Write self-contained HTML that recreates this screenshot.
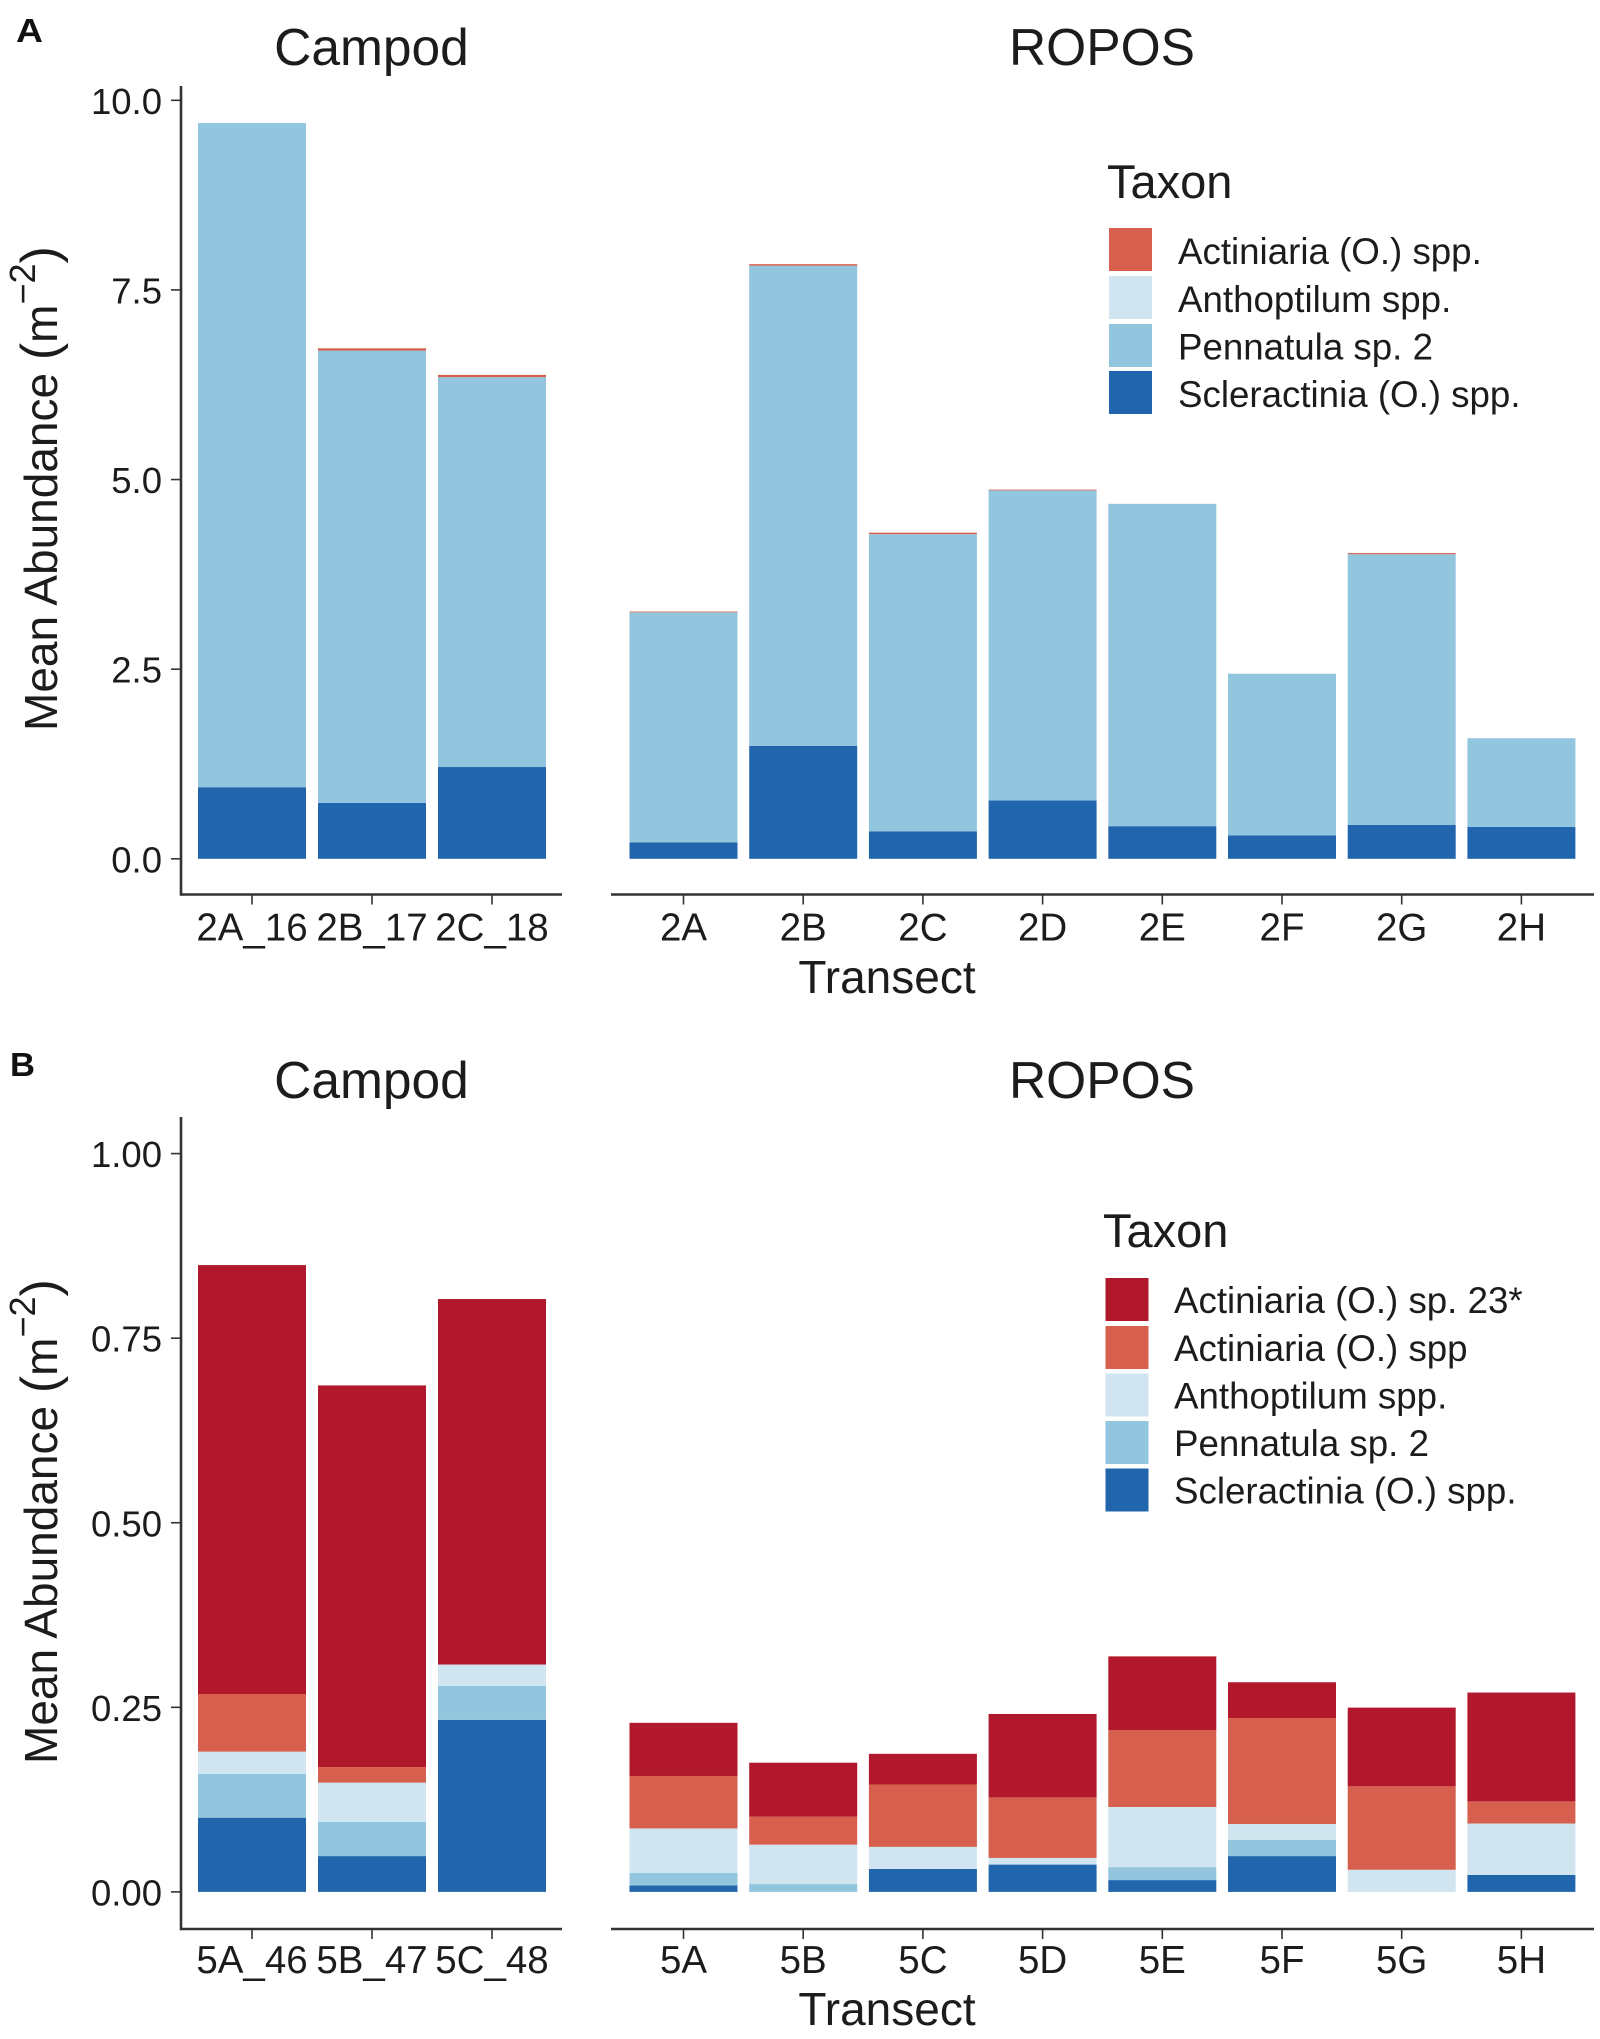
<!DOCTYPE html>
<html lang="en">
<head>
<meta charset="utf-8">
<title>Mean abundance by transect</title>
<style>
html,body{margin:0;padding:0;background:#fff;width:1600px;height:2039px;overflow:hidden}
svg{display:block}
text{font-family:"Liberation Sans",Arial,sans-serif;fill:#1c1c1c}
.tick{font-size:36.5px}
.tick-x{font-size:38.5px}
.legend{font-size:36.7px}
.facet{font-size:51.5px}
.legend-title{font-size:47px}
.axis-title{font-size:46px}
.letter{font-size:33px;font-weight:bold;fill:#111}
</style>
</head>
<body>
<svg id="figure" xmlns="http://www.w3.org/2000/svg" width="1600" height="2039" viewBox="0 0 1600 2039">
  <rect x="0" y="0" width="1600" height="2039" fill="#ffffff"/>

  <text class="letter" x="16" y="42" textLength="27" lengthAdjust="spacingAndGlyphs">A</text>
  <text class="facet" x="371.5" y="65" text-anchor="middle">Campod</text>
  <text class="facet" x="1102" y="65" text-anchor="middle">ROPOS</text>
  <text class="axis-title" transform="translate(57,731) rotate(-90)">Mean Abundance <tspan font-size="52">(</tspan>m<tspan dy="-22" font-size="36">−2</tspan><tspan dy="22" font-size="52">)</tspan></text>
  <text class="axis-title" x="887" y="993" text-anchor="middle">Transect</text>

  <g>
    <text class="legend-title" x="1107" y="198">Taxon</text>
    <g>
      <rect x="1109" y="228" width="43" height="43" fill="#D6604D"/>
      <text class="legend" x="1178" y="264">Actiniaria (O.) spp.</text>
    </g>
    <g>
      <rect x="1109" y="276" width="43" height="43" fill="#D1E5F0"/>
      <text class="legend" x="1178" y="312">Anthoptilum spp.</text>
    </g>
    <g>
      <rect x="1109" y="324" width="43" height="43" fill="#92C5DE"/>
      <text class="legend" x="1178" y="359.5">Pennatula sp. 2</text>
    </g>
    <g>
      <rect x="1109" y="371" width="43" height="43" fill="#2166AC"/>
      <text class="legend" x="1178" y="407">Scleractinia (O.) spp.</text>
    </g>
  </g>

  <text class="letter" x="10" y="1076" textLength="25" lengthAdjust="spacingAndGlyphs">B</text>
  <text class="facet" x="371.5" y="1098" text-anchor="middle">Campod</text>
  <text class="facet" x="1102" y="1098" text-anchor="middle">ROPOS</text>
  <text class="axis-title" transform="translate(57,1764) rotate(-90)">Mean Abundance <tspan font-size="52">(</tspan>m<tspan dy="-22" font-size="36">−2</tspan><tspan dy="22" font-size="52">)</tspan></text>
  <text class="axis-title" x="887" y="2025" text-anchor="middle">Transect</text>

  <g>
    <text class="legend-title" x="1103" y="1247">Taxon</text>
    <g>
      <rect x="1105.5" y="1278" width="43" height="43" fill="#B2182B"/>
      <text class="legend" x="1174" y="1313">Actiniaria (O.) sp. 23*</text>
    </g>
    <g>
      <rect x="1105.5" y="1326" width="43" height="43" fill="#D6604D"/>
      <text class="legend" x="1174" y="1361">Actiniaria (O.) spp</text>
    </g>
    <g>
      <rect x="1105.5" y="1373.5" width="43" height="43" fill="#D1E5F0"/>
      <text class="legend" x="1174" y="1408.5">Anthoptilum spp.</text>
    </g>
    <g>
      <rect x="1105.5" y="1421" width="43" height="43" fill="#92C5DE"/>
      <text class="legend" x="1174" y="1456">Pennatula sp. 2</text>
    </g>
    <g>
      <rect x="1105.5" y="1468.5" width="43" height="43" fill="#2166AC"/>
      <text class="legend" x="1174" y="1503.5">Scleractinia (O.) spp.</text>
    </g>
  </g>
</svg>

<script>
// ---- Panel A data ----
const aCampodCategories = ["2A_16", "2B_17", "2C_18"];
const aCampodScleractinia = [0.944, 0.738, 1.21];
const aCampodPennatula = [8.756, 5.962, 5.14];
const aCampodAnthoptilum = [0, 0, 0];
const aCampodActiniaria = [0, 0.03, 0.03];

const aRoposCategories = ["2A", "2B", "2C", "2D", "2E", "2F", "2G", "2H"];
const aRoposScleractinia = [0.215, 1.49, 0.36, 0.77, 0.43, 0.31, 0.446, 0.42];
const aRoposPennatula = [3.035, 6.33, 3.92, 4.087, 4.25, 2.13, 3.569, 1.17];
const aRoposAnthoptilum = [0, 0, 0, 0, 0, 0, 0, 0];
const aRoposActiniaria = [0.01, 0.02, 0.02, 0.01, 0, 0, 0.015, 0];

const aTickValues = [0, 2.5, 5, 7.5, 10];
const aTickLabels = ["0.0", "2.5", "5.0", "7.5", "10.0"];

// ---- Panel B data ----
const bCampodCategories = ["5A_46", "5B_47", "5C_48"];
const bCampodScleractinia = [0.1005, 0.0485, 0.233];
const bCampodPennatula = [0.0595, 0.0465, 0.046];
const bCampodAnthoptilum = [0.03, 0.053, 0.029];
const bCampodActiniariaSpp = [0.078, 0.021, 0];
const bCampodActiniaria23 = [0.581, 0.517, 0.495];

const bRoposCategories = ["5A", "5B", "5C", "5D", "5E", "5F", "5G", "5H"];
const bRoposScleractinia = [0.0088, 0, 0.031, 0.037, 0.016, 0.0485, 0, 0.023];
const bRoposPennatula = [0.0168, 0.0106, 0, 0, 0.0175, 0.022, 0, 0];
const bRoposAnthoptilum = [0.0604, 0.0534, 0.03, 0.009, 0.0815, 0.0215, 0.03, 0.0696];
const bRoposActiniariaSpp = [0.071, 0.038, 0.0845, 0.082, 0.104, 0.1435, 0.113, 0.03];
const bRoposActiniaria23 = [0.072, 0.073, 0.0415, 0.113, 0.1, 0.0485, 0.1066, 0.1474];

const bTickValues = [0, 0.25, 0.5, 0.75, 1];
const bTickLabels = ["0.00", "0.25", "0.50", "0.75", "1.00"];

const COLOR_SCLER = "#2166AC";
const COLOR_PENN = "#92C5DE";
const COLOR_ANTH = "#D1E5F0";
const COLOR_ACTS = "#D6604D";
const COLOR_A23 = "#B2182B";

const NS = "http://www.w3.org/2000/svg";
const fig = document.getElementById("figure");
const AXIS_COLOR = "#333333";

function addLine(parent, x1, y1, x2, y2, width, name) {
  const el = document.createElementNS(NS, "line");
  el.setAttribute("x1", x1);
  el.setAttribute("y1", y1);
  el.setAttribute("x2", x2);
  el.setAttribute("y2", y2);
  el.setAttribute("stroke", AXIS_COLOR);
  el.setAttribute("stroke-width", width);
  
  
  parent.appendChild(el);
}

function addTickText(parent, cls, x, y, anchor, str, name) {
  const el = document.createElementNS(NS, "text");
  el.setAttribute("class", cls);
  el.setAttribute("x", x);
  el.setAttribute("y", y);
  el.setAttribute("text-anchor", anchor);
  el.textContent = str;
  
  
  parent.appendChild(el);
}

function addGroup(name) {
  const g = document.createElementNS(NS, "g");
  
  
  fig.appendChild(g);
  return g;
}

function drawYAxis(prefix, tickValues, tickLabels, yScale, axisX, top, bottom) {
  const g = addGroup(prefix + "-y-axis");
  addLine(g, axisX, top, axisX, bottom + 1.2, 2.6, prefix + "-y-axis-line");
  tickValues.forEach(function (v, i) {
    const y = yScale(v);
    addLine(g, axisX - 10, y, axisX, y, 1.6, prefix + "-y-tick-" + tickLabels[i]);
    addTickText(g, "tick", axisX - 19, y + 13.5, "end", tickLabels[i], prefix + "-y-label-" + tickLabels[i]);
  });
}

function drawFacet(prefix, categories, stacks, yScale, opt) {
  const g = addGroup(prefix + "-bars");
  const xg = addGroup(prefix + "-x-axis");
  addLine(xg, opt.axisStart, opt.axisY, opt.axisEnd, opt.axisY, 2.6, prefix + "-x-axis-line");
  categories.forEach(function (cat, i) {
    const cx = opt.firstCenter + opt.step * i;
    let cum = 0;
    stacks.forEach(function (s) {
      const v = s.values[i];
      if (v > 0) {
        const yTop = yScale(cum + v);
        const yBot = yScale(cum);
        const r = document.createElementNS(NS, "rect");
        r.setAttribute("x", cx - opt.barWidth / 2);
        r.setAttribute("y", yTop);
        r.setAttribute("width", opt.barWidth);
        r.setAttribute("height", yBot - yTop);
        r.setAttribute("fill", s.color);
        
        
        g.appendChild(r);
      }
      cum += v;
    });
    addLine(xg, cx, opt.axisY, cx, opt.axisY + 10, 1.6, prefix + "-x-tick-" + cat);
    addTickText(xg, "tick-x", cx, opt.axisY + opt.labelOffset, "middle", cat, prefix + "-x-label-" + cat);
  });
}

// ---- Axis functions ----
function yScaleA(v) { return 858.8 - v * 75.85; }
function yScaleB(v) { return 1891.9 - v * 738.3; }

const campodLayoutA = { axisStart: 181, axisEnd: 562, axisY: 894.5, labelOffset: 46, firstCenter: 252, step: 120, barWidth: 108 };
const roposLayoutA = { axisStart: 611, axisEnd: 1594, axisY: 894.5, labelOffset: 46, firstCenter: 683.5, step: 119.7, barWidth: 108 };
const campodLayoutB = { axisStart: 181, axisEnd: 562, axisY: 1929, labelOffset: 44, firstCenter: 252, step: 120, barWidth: 108 };
const roposLayoutB = { axisStart: 611, axisEnd: 1594, axisY: 1929, labelOffset: 44, firstCenter: 683.5, step: 119.7, barWidth: 108 };

// ---- Panel A ----
drawYAxis("panel-a", aTickValues, aTickLabels, yScaleA, 181, 86, 894.5);
drawFacet("panel-a-campod", aCampodCategories, [
  { key: "scleractinia", color: COLOR_SCLER, values: aCampodScleractinia },
  { key: "pennatula", color: COLOR_PENN, values: aCampodPennatula },
  { key: "anthoptilum", color: COLOR_ANTH, values: aCampodAnthoptilum },
  { key: "actiniaria", color: COLOR_ACTS, values: aCampodActiniaria }
], yScaleA, campodLayoutA);
drawFacet("panel-a-ropos", aRoposCategories, [
  { key: "scleractinia", color: COLOR_SCLER, values: aRoposScleractinia },
  { key: "pennatula", color: COLOR_PENN, values: aRoposPennatula },
  { key: "anthoptilum", color: COLOR_ANTH, values: aRoposAnthoptilum },
  { key: "actiniaria", color: COLOR_ACTS, values: aRoposActiniaria }
], yScaleA, roposLayoutA);

// ---- Panel B ----
drawYAxis("panel-b", bTickValues, bTickLabels, yScaleB, 181, 1117, 1929);
drawFacet("panel-b-campod", bCampodCategories, [
  { key: "scleractinia", color: COLOR_SCLER, values: bCampodScleractinia },
  { key: "pennatula", color: COLOR_PENN, values: bCampodPennatula },
  { key: "anthoptilum", color: COLOR_ANTH, values: bCampodAnthoptilum },
  { key: "actiniaria-spp", color: COLOR_ACTS, values: bCampodActiniariaSpp },
  { key: "actiniaria-23", color: COLOR_A23, values: bCampodActiniaria23 }
], yScaleB, campodLayoutB);
drawFacet("panel-b-ropos", bRoposCategories, [
  { key: "scleractinia", color: COLOR_SCLER, values: bRoposScleractinia },
  { key: "pennatula", color: COLOR_PENN, values: bRoposPennatula },
  { key: "anthoptilum", color: COLOR_ANTH, values: bRoposAnthoptilum },
  { key: "actiniaria-spp", color: COLOR_ACTS, values: bRoposActiniariaSpp },
  { key: "actiniaria-23", color: COLOR_A23, values: bRoposActiniaria23 }
], yScaleB, roposLayoutB);
</script>
</body>
</html>
